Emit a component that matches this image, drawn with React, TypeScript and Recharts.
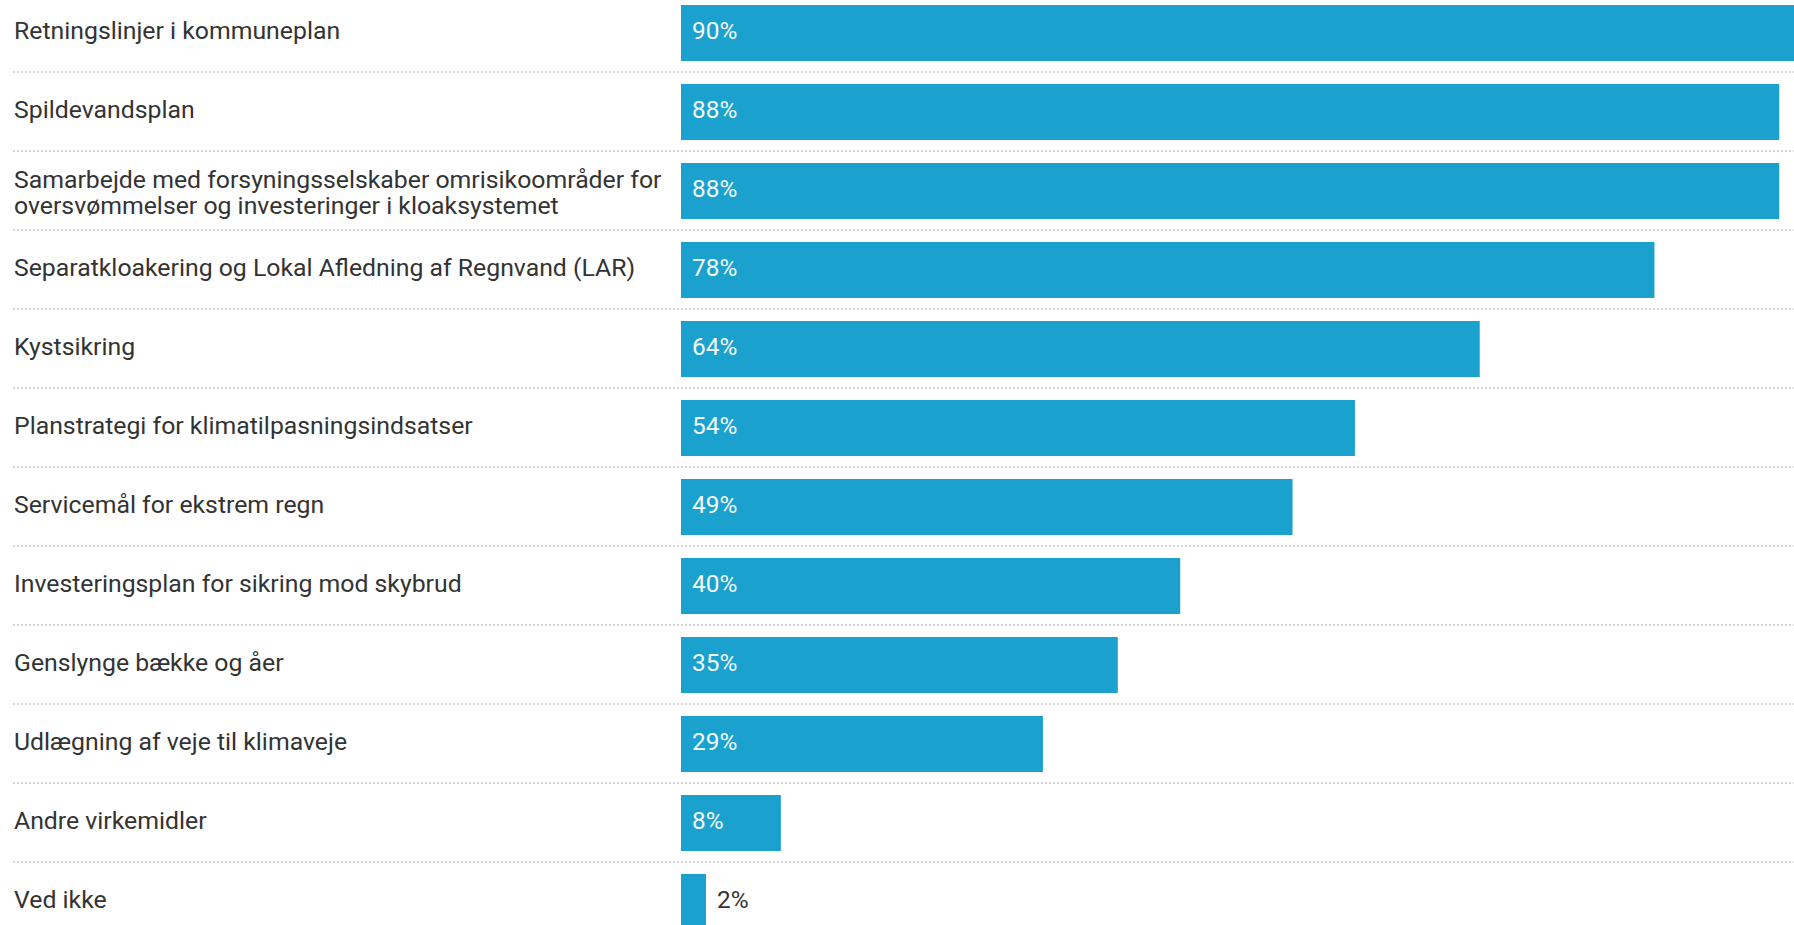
import React from "react";
import {Bar, BarChart, LabelList, XAxis, YAxis} from "recharts";

const categories = [
    "Retningslinjer i kommuneplan",
    "Spildevandsplan",
    "Samarbejde med forsyningsselskaber omrisikoområder for\noversvømmelser og investeringer i kloaksystemet",
    "Separatkloakering og Lokal Afledning af Regnvand (LAR)",
    "Kystsikring",
    "Planstrategi for klimatilpasningsindsatser",
    "Servicemål for ekstrem regn",
    "Investeringsplan for sikring mod skybrud",
    "Genslynge bække og åer",
    "Udlægning af veje til klimaveje",
    "Andre virkemidler",
    "Ved ikke",
];

const shares = [90, 88, 88, 78, 64, 54, 49, 40, 35, 29, 8, 2];

const data = categories.map((name, i) => ({name, value: shares[i]}));

const FONT = "Roboto, 'Noto Sans', sans-serif";
const CHART_W = 1929;
const CHART_H = 948;

const CategoryTick = (props: any) => {
    const {y, payload} = props;
    const lines = String(payload.value).split("\n");
    const half = payload.offset ?? 39.5;
    const lineH = 26.8;
    // single lines sit a touch above the band centre, wrapped ones a touch below
    const nudge = lines.length > 1 ? 2 : -2.5;
    const startY = y + nudge - ((lines.length - 1) * lineH) / 2;
    return (
        <g>
            {lines.map((line: string, i: number) => (
                <text key={i}
                      x={14}
                      y={startY + i * lineH}
                      dominantBaseline="central"
                      textAnchor="start"
                      fontFamily={FONT}
                      fontSize={24.8}
                      fill="#333"
                >
                    {line}
                </text>
            ))}
            <line x1={13}
                  x2={CHART_W}
                  y1={y + half}
                  y2={y + half}
                  stroke="#d4d4d4"
                  strokeWidth={2}
                  strokeDasharray="2 2"
            />
        </g>
    );
};

const ValueLabel = (props: any) => {
    const {x, y, width, height, value} = props;
    const inside = width > 50;
    return (
        <text x={inside ? x + 11 : x + width + 11}
              y={y + height / 2 - 3}
              dominantBaseline="central"
              textAnchor="start"
              fontFamily={FONT}
              fontSize={24.4}
              fill={inside ? "#f4fbfd" : "#333"}
        >
            {`${value}%`}
        </text>
    );
};

const App = () => {
    return (
        <div style={{position: "fixed", left: 0, top: 0, width: 1794, height: 925, overflow: "hidden", background: "#fff"}}>
            <div style={{position: "absolute", left: 0, top: -7}}>
                <BarChart width={CHART_W}
                          height={CHART_H}
                          data={data}
                          layout="vertical"
                          margin={{top: 0, right: 0, bottom: 0, left: 0}}
                >
                    <XAxis type="number" domain={[0, 100]} hide/>
                    <YAxis type="category"
                           dataKey="name"
                           width={681}
                           axisLine={false}
                           tickLine={false}
                           interval={0}
                           tick={<CategoryTick/>}
                    />
                    <Bar dataKey="value"
                         fill="#1aa1cd"
                         barSize={56}
                         isAnimationActive={false}
                    >
                        <LabelList dataKey="value" content={<ValueLabel/>}/>
                    </Bar>
                </BarChart>
            </div>
        </div>
    );
};

export default App;
